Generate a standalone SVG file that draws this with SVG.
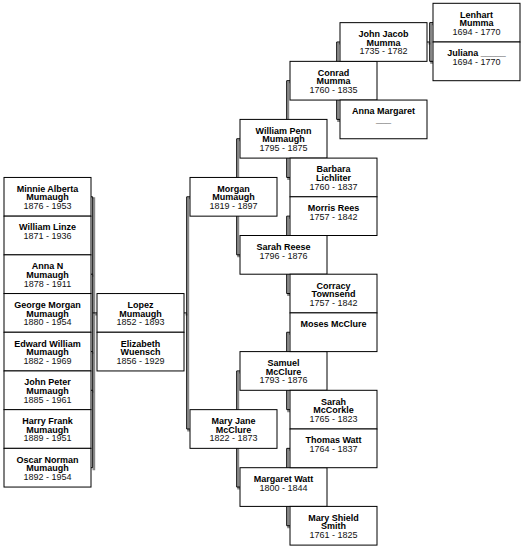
<svg xmlns="http://www.w3.org/2000/svg" width="523" height="549" viewBox="0 0 523 549">
<style>
.b{fill:#fff;stroke:#000;stroke-width:1}
.n{font-family:"Liberation Sans",Arial,sans-serif;font-size:9px;font-weight:bold;fill:#000;text-anchor:middle}
.d{font-family:"Liberation Sans",Arial,sans-serif;font-size:9px;fill:#111;text-anchor:middle}
.c{fill:none;stroke:#000;stroke-width:1}
.s{fill:none;stroke:#888;stroke-width:2}
</style>
<defs>
<g id="conn">
</g>
</defs>
<rect width="523" height="549" fill="#fff"/>
<g id="connectors">
<g transform="translate(1.5,1.5)" class="s">
<path d="M91 196.8H92.7V467.7H91M91 274.2H92.7M91 351.6H92.7M91 390.3H92.7M92.7 312.9H96"/>
<path d="M184 312.9H186.7M190 196.8H186.7V429H190"/>
<path d="M240 138.75H236.7V254.85H240"/>
<path d="M240 370.95H236.7V487.05H240"/>
<path d="M290 80.7H286.7V177.45H290"/>
<path d="M290 216.15H286.7V293.55H290"/>
<path d="M290 332.25H286.7V409.65H290"/>
<path d="M290 448.35H286.7V525.75H290"/>
<path d="M340 42H336.7V119.4H340"/>
<path d="M427 42H429.7M433 22.65H429.7V61.35H433"/>
</g>
<g class="c">
<path d="M91 196.8H92.7V467.7H91M91 274.2H92.7M91 351.6H92.7M91 390.3H92.7M92.7 312.9H97"/>
<path d="M184 312.9H186.7M190 196.8H186.7V429H190"/>
<path d="M240 138.75H236.7V254.85H240"/>
<path d="M240 370.95H236.7V487.05H240"/>
<path d="M290 80.7H286.7V177.45H290"/>
<path d="M290 216.15H286.7V293.55H290"/>
<path d="M290 332.25H286.7V409.65H290"/>
<path d="M290 448.35H286.7V525.75H290"/>
<path d="M340 42H336.7V119.4H340"/>
<path d="M427 42H429.7M433 22.65H429.7V61.35H433"/>
</g>
</g>

<g id="minnie"><rect class="b" x="4" y="177.45" width="87" height="38.7"/><text class="n" x="47.5" y="191.75">Minnie Alberta</text><text class="n" x="47.5" y="200.45">Mumaugh</text><text class="d" x="47.5" y="209.15">1876 - 1953</text></g>
<g id="william-linze"><rect class="b" x="4" y="216.15" width="87" height="38.7"/><text class="n" x="47.5" y="230.45">William Linze</text><text class="d" x="47.5" y="239.15">1871 - 1936</text></g>
<g id="anna-n"><rect class="b" x="4" y="254.85" width="87" height="38.7"/><text class="n" x="47.5" y="269.15">Anna N</text><text class="n" x="47.5" y="277.85">Mumaugh</text><text class="d" x="47.5" y="286.55">1878 - 1911</text></g>
<g id="george"><rect class="b" x="4" y="293.55" width="87" height="38.7"/><text class="n" x="47.5" y="307.85">George Morgan</text><text class="n" x="47.5" y="316.55">Mumaugh</text><text class="d" x="47.5" y="325.25">1880 - 1954</text></g>
<g id="edward"><rect class="b" x="4" y="332.25" width="87" height="38.7"/><text class="n" x="47.5" y="346.55">Edward William</text><text class="n" x="47.5" y="355.25">Mumaugh</text><text class="d" x="47.5" y="363.95">1882 - 1969</text></g>
<g id="john-peter"><rect class="b" x="4" y="370.95" width="87" height="38.7"/><text class="n" x="47.5" y="385.25">John Peter</text><text class="n" x="47.5" y="393.95">Mumaugh</text><text class="d" x="47.5" y="402.65">1885 - 1961</text></g>
<g id="harry"><rect class="b" x="4" y="409.65" width="87" height="38.7"/><text class="n" x="47.5" y="423.95">Harry Frank</text><text class="n" x="47.5" y="432.65">Mumaugh</text><text class="d" x="47.5" y="441.35">1889 - 1951</text></g>
<g id="oscar"><rect class="b" x="4" y="448.35" width="87" height="38.7"/><text class="n" x="47.5" y="462.65">Oscar Norman</text><text class="n" x="47.5" y="471.35">Mumaugh</text><text class="d" x="47.5" y="480.05">1892 - 1954</text></g>

<g id="lopez"><rect class="b" x="97" y="293.55" width="87" height="38.7"/><text class="n" x="140.5" y="307.85">Lopez</text><text class="n" x="140.5" y="316.55">Mumaugh</text><text class="d" x="140.5" y="325.25">1852 - 1893</text></g>
<g id="elizabeth"><rect class="b" x="97" y="332.25" width="87" height="38.7"/><text class="n" x="140.5" y="346.55">Elizabeth</text><text class="n" x="140.5" y="355.25">Wuensch</text><text class="d" x="140.5" y="363.95">1856 - 1929</text></g>

<g id="morgan"><rect class="b" x="190" y="177.45" width="87" height="38.7"/><text class="n" x="233.5" y="191.75">Morgan</text><text class="n" x="233.5" y="200.45">Mumaugh</text><text class="d" x="233.5" y="209.15">1819 - 1897</text></g>
<g id="mary-jane"><rect class="b" x="190" y="409.65" width="87" height="38.7"/><text class="n" x="233.5" y="423.95">Mary Jane</text><text class="n" x="233.5" y="432.65">McClure</text><text class="d" x="233.5" y="441.35">1822 - 1873</text></g>

<g id="william-penn"><rect class="b" x="240" y="119.4" width="87" height="38.7"/><text class="n" x="283.5" y="133.7">William Penn</text><text class="n" x="283.5" y="142.4">Mumaugh</text><text class="d" x="283.5" y="151.1">1795 - 1875</text></g>
<g id="sarah-reese"><rect class="b" x="240" y="235.5" width="87" height="38.7"/><text class="n" x="283.5" y="249.8">Sarah Reese</text><text class="d" x="283.5" y="258.5">1796 - 1876</text></g>
<g id="samuel"><rect class="b" x="240" y="351.6" width="87" height="38.7"/><text class="n" x="283.5" y="365.9">Samuel</text><text class="n" x="283.5" y="374.6">McClure</text><text class="d" x="283.5" y="383.3">1793 - 1876</text></g>
<g id="margaret-watt"><rect class="b" x="240" y="467.7" width="87" height="38.7"/><text class="n" x="283.5" y="482">Margaret Watt</text><text class="d" x="283.5" y="490.7">1800 - 1844</text></g>

<g id="conrad"><rect class="b" x="290" y="61.35" width="87" height="38.7"/><text class="n" x="333.5" y="75.65">Conrad</text><text class="n" x="333.5" y="84.35">Mumma</text><text class="d" x="333.5" y="93.05">1760 - 1835</text></g>
<g id="barbara"><rect class="b" x="290" y="158.1" width="87" height="38.7"/><text class="n" x="333.5" y="172.4">Barbara</text><text class="n" x="333.5" y="181.1">Lichliter</text><text class="d" x="333.5" y="189.8">1760 - 1837</text></g>
<g id="morris"><rect class="b" x="290" y="196.8" width="87" height="38.7"/><text class="n" x="333.5" y="211.1">Morris Rees</text><text class="d" x="333.5" y="219.8">1757 - 1842</text></g>
<g id="corracy"><rect class="b" x="290" y="274.2" width="87" height="38.7"/><text class="n" x="333.5" y="288.5">Corracy</text><text class="n" x="333.5" y="297.2">Townsend</text><text class="d" x="333.5" y="305.9">1757 - 1842</text></g>
<g id="moses"><rect class="b" x="290" y="312.9" width="87" height="38.7"/><text class="n" x="333.5" y="327.2">Moses McClure</text></g>
<g id="sarah-mccorkle"><rect class="b" x="290" y="390.3" width="87" height="38.7"/><text class="n" x="333.5" y="404.6">Sarah</text><text class="n" x="333.5" y="413.3">McCorkle</text><text class="d" x="333.5" y="422">1765 - 1823</text></g>
<g id="thomas-watt"><rect class="b" x="290" y="429" width="87" height="38.7"/><text class="n" x="333.5" y="443.3">Thomas Watt</text><text class="d" x="333.5" y="452">1764 - 1837</text></g>
<g id="mary-shield"><rect class="b" x="290" y="506.4" width="87" height="38.7"/><text class="n" x="333.5" y="520.7">Mary Shield</text><text class="n" x="333.5" y="529.4">Smith</text><text class="d" x="333.5" y="538.1">1761 - 1825</text></g>

<g id="john-jacob"><rect class="b" x="340" y="22.65" width="87" height="38.7"/><text class="n" x="383.5" y="36.95">John Jacob</text><text class="n" x="383.5" y="45.65">Mumma</text><text class="d" x="383.5" y="54.35">1735 - 1782</text></g>
<g id="anna-margaret"><rect class="b" x="340" y="100.05" width="87" height="38.7"/><text class="n" x="383.5" y="114.35">Anna Margaret</text><text class="n" x="383.5" y="123.05">___</text></g>

<g id="lenhart"><rect class="b" x="433" y="3.3" width="87" height="38.7"/><text class="n" x="476.5" y="17.6">Lenhart</text><text class="n" x="476.5" y="26.3">Mumma</text><text class="d" x="476.5" y="35">1694 - 1770</text></g>
<g id="juliana"><rect class="b" x="433" y="42" width="87" height="38.7"/><text class="n" x="476.5" y="56.3">Juliana _____</text><text class="d" x="476.5" y="65">1694 - 1770</text></g>
</svg>
